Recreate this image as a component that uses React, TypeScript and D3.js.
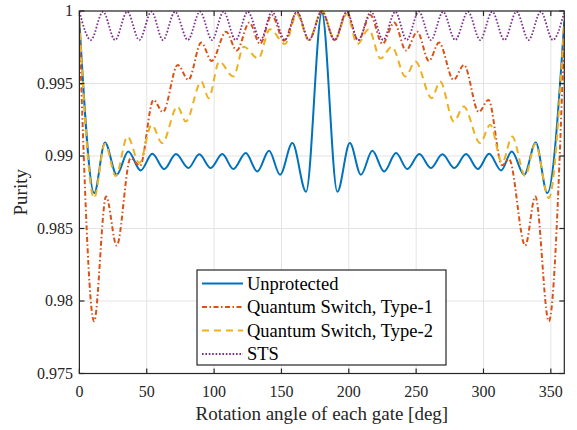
import React from "react";
import * as d3 from "d3";

// ---- data ----
const xTicks = [0, 50, 100, 150, 200, 250, 300, 350];
const yTicks = [0.975, 0.98, 0.985, 0.99, 0.995, 1];
const yTickLabels = ["0.975", "0.98", "0.985", "0.99", "0.995", "1"];

const seriesNames = [
  "Unprotected",
  "Quantum Switch, Type-1",
  "Quantum Switch, Type-2",
  "STS",
];

// [rotation angle (deg), purity]
const unprotected: [number, number][] = [
  [0, 0.9993], [11, 0.98744], [19, 0.99093], [27.7, 0.98871], [36.3, 0.99031],
  [45.5, 0.989], [54.1, 0.99015], [63, 0.9891], [71.7, 0.99013], [80.9, 0.98917],
  [89, 0.99012], [97.5, 0.98917], [106.1, 0.99013], [114.3, 0.9891], [123.5, 0.9902],
  [132.1, 0.98893], [140.8, 0.99036], [149, 0.98871], [158.1, 0.99089], [168.3, 0.98753],
  [180, 0.9999], [191.5, 0.98753], [200.8, 0.99089], [209, 0.98871], [217.5, 0.99036],
  [226.2, 0.98893], [235.1, 0.9902], [243.5, 0.9891], [252.4, 0.99013], [260.9, 0.98917],
  [269.5, 0.99012], [278.4, 0.98917], [287.1, 0.99013], [295.8, 0.9891], [304.2, 0.99015],
  [313.1, 0.989], [321, 0.99031], [330.2, 0.98871], [338.8, 0.99093], [347.4, 0.98744],
  [360, 0.9993],
];

const switchType1: [number, number][] = [
  [0, 0.9987], [10.9, 0.9786], [19.8, 0.98721], [27.7, 0.98382], [38, 0.98986],
  [45, 0.98932], [55, 0.99387], [62, 0.99303], [73, 0.99628], [80.9, 0.99525],
  [90.5, 0.99782], [98.2, 0.99656], [108.9, 0.99857], [116.8, 0.99727], [126.2, 0.9992],
  [134.1, 0.99773], [142.8, 0.99972], [151.9, 0.99795], [161.4, 0.9999], [170.5, 0.998],
  [180, 1.0], [189.5, 0.998], [198.4, 0.9999], [207, 0.99795], [216, 0.99972],
  [225, 0.99773], [233.7, 0.9992], [242.5, 0.99727], [250.8, 0.99857], [259.5, 0.99656],
  [267, 0.99782], [277.8, 0.99525], [285.5, 0.99628], [296.5, 0.99303], [303.7, 0.99387],
  [313.8, 0.98936], [319, 0.98978], [331, 0.98382], [338.5, 0.98721], [348.5, 0.9786],
  [360, 0.9987],
];

const switchType2: [number, number][] = [
  [0, 0.9993], [10.9, 0.9871], [19, 0.99085], [27, 0.98862], [35.7, 0.99134],
  [44.5, 0.98952], [53.7, 0.99215], [61.5, 0.99089], [72.8, 0.99341], [79, 0.99238],
  [90.5, 0.99513], [96, 0.99399], [103.8, 0.99651], [114.3, 0.99548], [122, 0.99754],
  [132.8, 0.99672], [141.5, 0.99875], [152.7, 0.99772], [161.4, 0.9998], [170.3, 0.998],
  [180, 1.0], [189.7, 0.998], [198.6, 0.9998], [206.3, 0.99772], [214.8, 0.99875],
  [223.5, 0.99672], [232, 0.99754], [242, 0.99548], [249.5, 0.99651], [261.5, 0.99399],
  [267.8, 0.99513], [278, 0.99238], [285.3, 0.99341], [297.5, 0.99089], [305, 0.99215],
  [313.8, 0.98952], [321.3, 0.99134], [331, 0.98862], [338.5, 0.99085], [348.5, 0.9871],
  [360, 0.9993],
];

const sts: [number, number][] = [
  [0, 0.99995], [8.5, 0.998], [17.5, 0.99995], [26.5, 0.998], [35.5, 0.99995],
  [44.5, 0.998], [53.5, 0.99995], [62, 0.998], [71, 0.99995], [80.5, 0.998],
  [89.5, 0.99995], [98.5, 0.998], [107, 0.99995], [116, 0.998], [125, 0.99995],
  [134.5, 0.998], [143, 0.99995], [152.5, 0.998], [161.5, 0.99995], [170.5, 0.998],
  [180, 0.99995], [189.5, 0.998], [198.5, 0.99995], [207, 0.998], [216.5, 0.99995],
  [225.5, 0.998], [234.5, 0.99995], [243, 0.998], [252, 0.99995], [261, 0.998],
  [270, 0.99995], [279, 0.998], [288.5, 0.99995], [297.5, 0.998], [306.5, 0.99995],
  [315.5, 0.998], [324.5, 0.99995], [333.5, 0.998], [342.5, 0.99995], [351.5, 0.998],
  [360, 0.99995],
];

// ---- layout & style ----
const W = 577;
const H = 430;
const M = { left: 79.4, right: 564.3, top: 11, bottom: 373.5 };
const FONT = "'Liberation Serif', 'DejaVu Serif', serif";
const AX = "#262626";

const styles = [
  { color: "#0072BD", dash: "none", width: 2 },
  { color: "#D95319", dash: "5,2.5,1.5,2.5", width: 2 },
  { color: "#EDB120", dash: "7,5", width: 2 },
  { color: "#7E2F8E", dash: "1.6,1.8", width: 1.8 },
];

export default function App() {
  const x = d3.scaleLinear().domain([0, 360]).range([M.left, M.right]);
  const y = d3.scaleLinear().domain([0.975, 1]).range([M.bottom, M.top]);
  const line = d3
    .line<[number, number]>()
    .x((d) => x(d[0]))
    .y((d) => y(d[1]))
    .curve(d3.curveMonotoneX);

  const allSeries = [unprotected, switchType1, switchType2, sts];
  const tickLen = 5;

  const legend = { x0: 197, y0: 270, x1: 446, y1: 365 };
  const legendRowY = [283.5, 307, 330.5, 354];
  const txt = (size: number, fill = AX) => ({ fontFamily: FONT, fontSize: size + "px", fill });

  return (
    <div style={{ position: "fixed", left: 0, top: 0 }}>
      <svg width={W} height={H} style={{ display: "block", background: "#fff" }}>
        <defs>
          <clipPath id="plotClip">
            <rect x={M.left} y={M.top - 1} width={M.right - M.left} height={M.bottom - M.top + 2} />
          </clipPath>
        </defs>
        <rect x={0} y={0} width={W} height={H} fill="#fff" />
        {/* grid */}
        {xTicks.map((t) => (
          <line key={"gx" + t} x1={x(t)} x2={x(t)} y1={M.top} y2={M.bottom} stroke="#e3e3e3" strokeWidth={1} />
        ))}
        {yTicks.map((t) => (
          <line key={"gy" + t} x1={M.left} x2={M.right} y1={y(t)} y2={y(t)} stroke="#e3e3e3" strokeWidth={1} />
        ))}
        {/* series */}
        <g clipPath="url(#plotClip)">
          {allSeries.map((s, i) => (
            <path
              key={"s" + i}
              d={line(s) || ""}
              fill="none"
              stroke={styles[i].color}
              strokeWidth={styles[i].width}
              strokeDasharray={styles[i].dash}
              strokeLinejoin="round"
            />
          ))}
        </g>
        {/* axes box */}
        <rect x={M.left} y={M.top} width={M.right - M.left} height={M.bottom - M.top} fill="none" stroke={AX} strokeWidth={1.2} />
        {xTicks.map((t) => (
          <g key={"tx" + t}>
            <line x1={x(t)} x2={x(t)} y1={M.bottom} y2={M.bottom - tickLen} stroke={AX} strokeWidth={1.2} />
            <line x1={x(t)} x2={x(t)} y1={M.top} y2={M.top + tickLen} stroke={AX} strokeWidth={1.2} />
            <text x={x(t)} y={397} textAnchor="middle" style={txt(16)}>
              {t}
            </text>
          </g>
        ))}
        {yTicks.map((t, i) => (
          <g key={"ty" + t}>
            <line x1={M.left} x2={M.left + tickLen} y1={y(t)} y2={y(t)} stroke={AX} strokeWidth={1.2} />
            <line x1={M.right} x2={M.right - tickLen} y1={y(t)} y2={y(t)} stroke={AX} strokeWidth={1.2} />
            <text x={73} y={y(t)} dy="0.33em" textAnchor="end" style={txt(16)}>
              {yTickLabels[i]}
            </text>
          </g>
        ))}
        {/* axis labels */}
        <text x={(M.left + M.right) / 2} y={420} textAnchor="middle" style={txt(19)}>
          Rotation angle of each gate [deg]
        </text>
        <text
          transform={`translate(27, ${(M.top + M.bottom) / 2}) rotate(-90)`}
          textAnchor="middle"
          style={txt(19)}
        >
          Purity
        </text>
        {/* legend */}
        <rect
          x={legend.x0}
          y={legend.y0}
          width={legend.x1 - legend.x0}
          height={legend.y1 - legend.y0}
          fill="#fff"
          stroke={AX}
          strokeWidth={1.2}
        />
        {seriesNames.map((name, i) => (
          <g key={"lg" + i}>
            <line
              x1={202}
              x2={243}
              y1={legendRowY[i]}
              y2={legendRowY[i]}
              stroke={styles[i].color}
              strokeWidth={styles[i].width}
              strokeDasharray={styles[i].dash}
            />
            <text x={247} y={legendRowY[i]} dy="0.33em" style={txt(18.5, "#000")}>
              {name}
            </text>
          </g>
        ))}
      </svg>
    </div>
  );
}
